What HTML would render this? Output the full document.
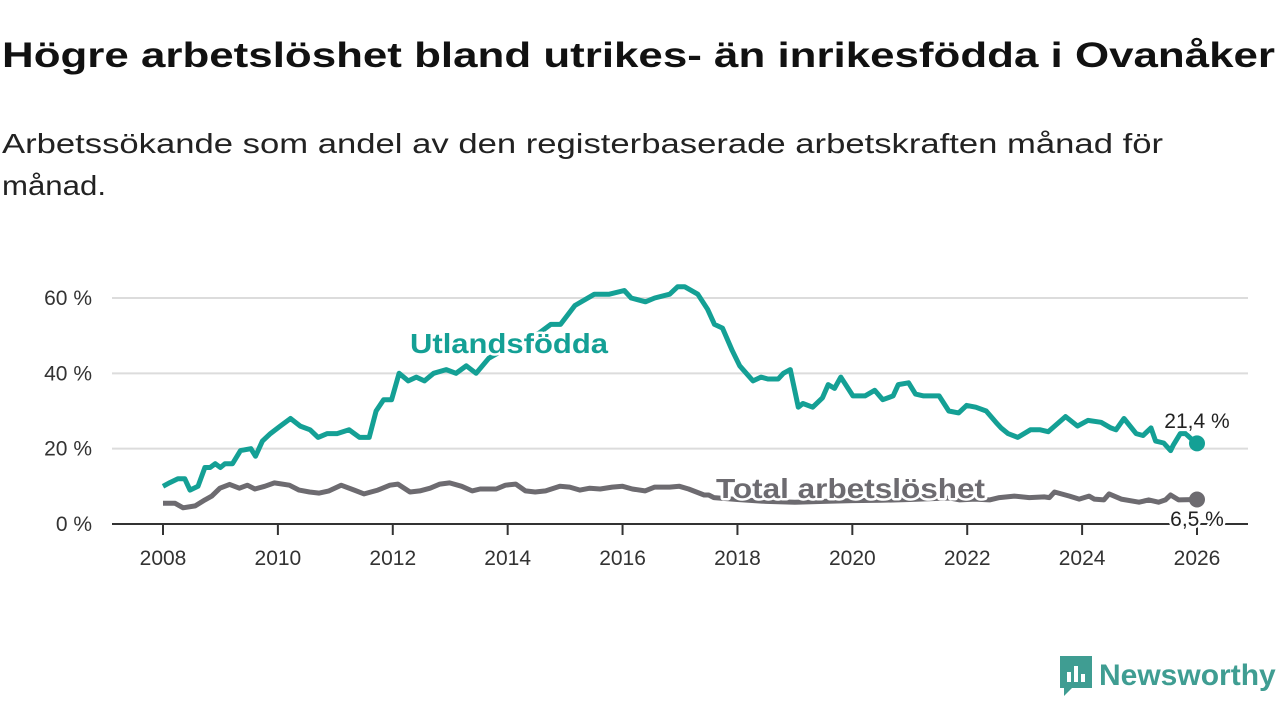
<!DOCTYPE html>
<html><head><meta charset="utf-8">
<style>
body{margin:0;width:1280px;height:720px;background:#fff;font-family:"Liberation Sans",sans-serif;overflow:hidden;position:relative}
svg{position:absolute;left:0;top:0}
</style></head><body>
<svg id="chart" width="1280" height="720">
<text x="2" y="67" font-size="35" font-weight="bold" fill="#111" textLength="1273" lengthAdjust="spacingAndGlyphs">Högre arbetslöshet bland utrikes- än inrikesfödda i Ovanåker</text>
<text x="2" y="153" font-size="28" fill="#222" textLength="1161" lengthAdjust="spacingAndGlyphs">Arbetssökande som andel av den registerbaserade arbetskraften månad för</text>
<text x="2" y="195" font-size="28" fill="#222" textLength="104" lengthAdjust="spacingAndGlyphs">månad.</text>
</svg>
<script>
const yTicks=[0,20,40,60];
const xTicks=[2008,2010,2012,2014,2016,2018,2020,2022,2024,2026];
const foreignDates=[2008.0,2008.12,2008.26,2008.38,2008.47,2008.61,2008.73,2008.82,2008.91,2009.0,2009.08,2009.21,2009.35,2009.53,2009.61,2009.73,2009.87,2010.04,2010.22,2010.39,2010.56,2010.7,2010.86,2011.03,2011.24,2011.42,2011.59,2011.71,2011.84,2011.98,2012.11,2012.27,2012.41,2012.55,2012.71,2012.93,2013.1,2013.28,2013.45,2013.67,2013.9,2014.4,2014.75,2014.92,2015.17,2015.51,2015.77,2016.03,2016.15,2016.4,2016.56,2016.82,2016.96,2017.08,2017.31,2017.48,2017.6,2017.74,2017.91,2018.04,2018.27,2018.41,2018.53,2018.71,2018.8,2018.92,2019.06,2019.14,2019.31,2019.48,2019.58,2019.69,2019.8,2020.01,2020.22,2020.39,2020.53,2020.71,2020.8,2020.98,2021.1,2021.24,2021.51,2021.68,2021.85,2021.99,2022.15,2022.33,2022.5,2022.59,2022.71,2022.88,2023.1,2023.27,2023.41,2023.71,2023.92,2024.1,2024.33,2024.5,2024.59,2024.73,2024.94,2025.06,2025.2,2025.28,2025.42,2025.54,2025.59,2025.71,2025.8,2025.94,2026.0];
const foreignValues=[10,11,12,12,9,10,15,15,16,15,16,16,19.5,20,18,22,24,26,28,26,25,23,24,24,25,23,23,30,33,33,40,38,39,38,40,41,40,42,40,44,46,49,53,53,58,61,61,62,60,59,60,61,63,63,61,57,53,52,46,42,38,39,38.5,38.5,40,41,31,32,31,33.5,37,36,39,34,34,35.5,33,34,37,37.5,34.5,34,34,30,29.5,31.5,31,30,27,25.5,24,23,25,25,24.5,28.5,26,27.5,27,25.5,25,28,24,23.5,25.5,22,21.5,19.5,21,24,24,22,21,21.4];
const totalDates=[2008.0,2008.21,2008.35,2008.56,2008.73,2008.85,2008.99,2009.16,2009.33,2009.47,2009.6,2009.77,2009.94,2010.2,2010.37,2010.55,2010.72,2010.89,2011.1,2011.33,2011.5,2011.74,2011.95,2012.09,2012.3,2012.47,2012.65,2012.82,2012.99,2013.2,2013.38,2013.52,2013.8,2013.96,2014.14,2014.31,2014.48,2014.66,2014.91,2015.08,2015.26,2015.43,2015.61,2015.82,2016.0,2016.17,2016.39,2016.56,2016.82,2016.99,2017.15,2017.42,2017.5,2017.59,2018.0,2018.5,2019.0,2019.5,2020.0,2020.5,2021.0,2021.5,2021.7,2021.87,2022.13,2022.39,2022.56,2022.82,2023.08,2023.34,2023.43,2023.52,2023.78,2023.95,2024.12,2024.21,2024.38,2024.47,2024.68,2024.99,2025.16,2025.33,2025.45,2025.54,2025.68,2026.0];
const totalValues=[5.5,5.5,4.3,4.8,6.4,7.4,9.5,10.5,9.5,10.3,9.3,10,10.9,10.3,9,8.5,8.2,8.8,10.3,9,8,9,10.3,10.6,8.5,8.8,9.5,10.6,10.9,10,8.8,9.3,9.3,10.3,10.6,8.8,8.5,8.8,10,9.8,9,9.5,9.3,9.8,10,9.3,8.8,9.8,9.8,10,9.3,7.7,7.7,7,6.5,6,5.8,6,6.2,6.3,6.5,6.8,6.9,6.4,6.6,6.4,7,7.4,7,7.2,7,8.5,7.4,6.6,7.4,6.6,6.4,8,6.6,5.8,6.4,5.8,6.4,7.7,6.4,6.5];
const NS="http://www.w3.org/2000/svg";
const svg=document.getElementById('chart');
const x=v=>163+(v-2008)*(1197-163)/18;
const y=v=>524-v*(524-298)/60;
function mk(tag,attrs,parent){const e=document.createElementNS(NS,tag);for(const k in attrs)e.setAttribute(k,attrs[k]);(parent||svg).appendChild(e);return e;}
yTicks.forEach(t=>{
  if(t>0){const g=mk('line',{x1:112,x2:1248,y1:y(t),y2:y(t),stroke:'#dcdcdc','stroke-width':2});
  
  }
  const l=mk('text',{x:92,y:y(t)+7,'text-anchor':'end','font-size':21,fill:'#333'});
  l.textContent=t+' %';
  
  
});
xTicks.forEach(t=>{
  const tk=mk('line',{x1:x(t),x2:x(t),y1:524,y2:535,stroke:'#333','stroke-width':2});
  
  
  const l=mk('text',{x:x(t),y:565,'text-anchor':'middle','font-size':21,fill:'#333'});
  l.textContent=t;
  
  
});
function path(d,v){return d.map((t,i)=>(i?'L':'M')+x(t).toFixed(1)+','+y(v[i]).toFixed(1)).join('');}
const tl=mk('path',{d:path(totalDates,totalValues),fill:'none',stroke:'#6d6b70','stroke-width':5,'stroke-linejoin':'round'});


const fl=mk('path',{d:path(foreignDates,foreignValues),fill:'none',stroke:'#14a095','stroke-width':5,'stroke-linejoin':'round'});


const ax=mk('line',{x1:112,x2:1248,y1:524,y2:524,stroke:'#333','stroke-width':2});


const fd=mk('circle',{cx:x(foreignDates[foreignDates.length-1]),cy:y(foreignValues[foreignValues.length-1]),r:8,fill:'#14a095'});


const td=mk('circle',{cx:x(totalDates[totalDates.length-1]),cy:y(totalValues[totalValues.length-1]),r:8,fill:'#6d6b70'});


function lab(txt,xx,yy,size,color,weight,anchor,name,len){
  const a={x:xx,y:yy,'font-size':size,fill:color,'font-weight':weight,'text-anchor':anchor,stroke:'#fff','stroke-width':5,'paint-order':'stroke','stroke-linejoin':'round'};
  if(len){a.textLength=len;a.lengthAdjust='spacingAndGlyphs';}
  const t=mk('text',a);
  t.textContent=txt;
  
  
}
lab('Utlandsfödda',410,353,28,'#14a095','bold','start','foreign-born-label',198);
lab('Total arbetslöshet',716,498,28,'#6d6b70','bold','start','total-label',269);
lab('21,4 %',1197,428,21,'#222','normal','middle','foreign-born-end-value');
lab('6,5 %',1197,526,21,'#222','normal','middle','total-end-value');
</script>
<div style="position:absolute;left:1060px;top:656px;display:flex;align-items:center">
<svg width="32" height="40" viewBox="0 0 32 40" style="position:static"><path d="M0 0H32V32H12L4 40V32H0Z" fill="#3f9d92"/><rect x="7" y="16" width="4" height="10" fill="#fff"/><rect x="14" y="10" width="4" height="16" fill="#fff"/><rect x="21" y="18" width="4" height="8" fill="#fff"/></svg>
<span style="font-size:30px;font-weight:bold;color:#3f9d92;margin-left:7px">Newsworthy</span></div>
</body></html>
